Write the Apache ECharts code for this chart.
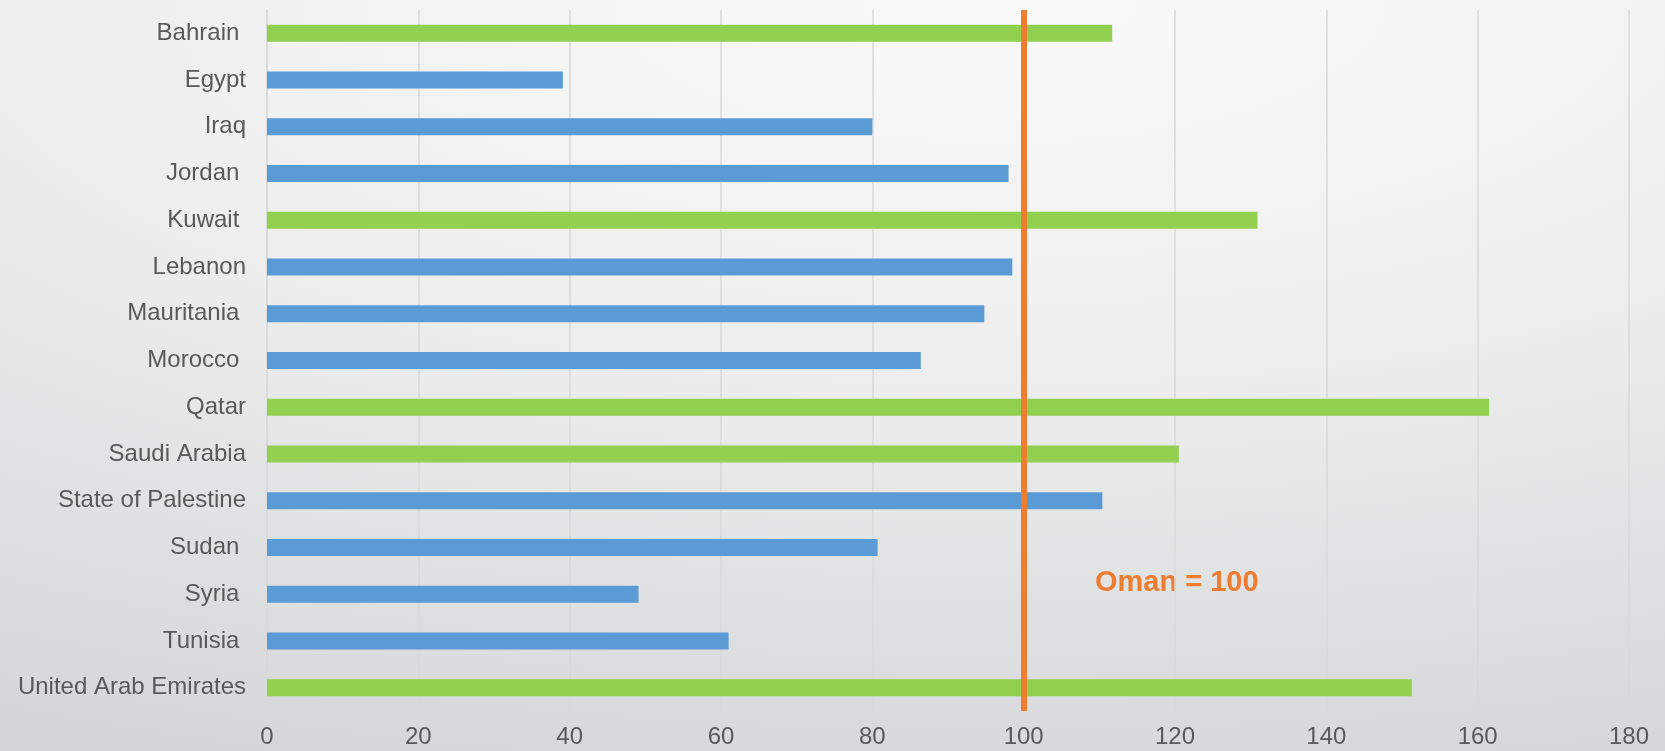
<!DOCTYPE html>
<html>
<head>
<meta charset="utf-8">
<script src="https://cdn.jsdelivr.net/npm/echarts@6/dist/echarts.min.js"></script>
<style>
  html, body { margin: 0; padding: 0; }
  #chart {
    width: 1665px;
    height: 751px;
    background: radial-gradient(ellipse 170% 140% at 60% 0%, #fafafa 0%, #eeeeee 35%, #d8dadb 70%, #c6c9ca 100%);
  }
</style>
</head>
<body>
<div id="chart"></div>
<script>
// 国家（有些原图标签带尾随空格）
const countries = [
  'Bahrain ', 'Egypt', 'Iraq', 'Jordan ', 'Kuwait ', 'Lebanon', 'Mauritania ',
  'Morocco ', 'Qatar', 'Saudi Arabia', 'State of Palestine', 'Sudan ', 'Syria ',
  'Tunisia ', 'United Arab Emirates'
]
const values = [111.7, 39.1, 80.0, 98.0, 130.9, 98.5, 94.8, 86.4, 161.5, 120.5, 110.4, 80.7, 49.1, 61.0, 151.3]
// 海湾国家用绿色
const gccMembers = ['Bahrain ', 'Kuwait ', 'Qatar', 'Saudi Arabia', 'United Arab Emirates']
const xTicks = [0, 20, 40, 60, 80, 100, 120, 140, 160, 180]
const omanLevel = 100

const chart = echarts.init(document.getElementById('chart'))

chart.setOption({
  backgroundColor: 'transparent',
  animation: false,
  grid: { left: 267, right: 36, top: 10, bottom: 40, containLabel: false },
  xAxis: {
    type: 'value',
    min: xTicks[0],
    max: xTicks[xTicks.length - 1],
    interval: xTicks[1] - xTicks[0],
    axisLine: { show: false },
    axisTick: { show: false },
    axisLabel: { color: '#595959', fontSize: 24, fontFamily: 'Liberation Sans, Arial', margin: 14 },
    splitLine: { show: true, lineStyle: { color: '#d9d9d9', width: 1.5 } }
  },
  yAxis: {
    type: 'category',
    data: countries,
    inverse: true,
    axisLine: { show: true, lineStyle: { color: '#d9d9d9', width: 1.5 } },
    axisTick: { show: false },
    axisLabel: {
      color: '#595959',
      fontSize: 24,
      fontFamily: 'Liberation Sans, Arial',
      margin: 21,
      padding: [4, 0, 0, 0]
    }
  },
  series: [
    {
      type: 'bar',
      data: values.map((v, i) => ({
        value: v,
        itemStyle: { color: gccMembers.includes(countries[i]) ? '#92D050' : '#5B9BD5' }
      })),
      barWidth: 17,
      markLine: {
        silent: true,
        symbol: 'none',
        label: { show: false },
        lineStyle: { color: '#ED7D31', width: 6, type: 'solid' },
        data: [{ xAxis: omanLevel }]
      }
    }
  ],
  graphic: [
    {
      type: 'text',
      left: 1095,
      top: 568,
      style: {
        text: 'Oman = 100',
        fill: '#ED7D31',
        font: 'bold 29px "Liberation Sans", Arial'
      }
    }
  ]
})
</script>
</body>
</html>
